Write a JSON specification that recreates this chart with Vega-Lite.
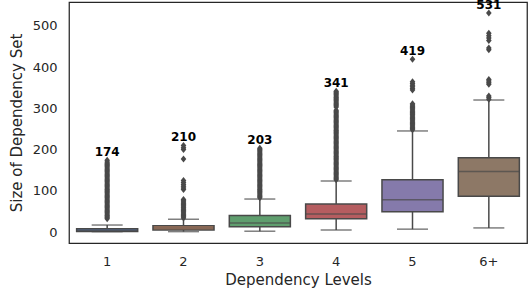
{
  "$schema": "https://vega.github.io/schema/vega-lite/v6.json",
  "width": 458,
  "height": 241,
  "autosize": {"type": "none"},
  "padding": {"left": 69, "top": 2, "right": 1, "bottom": 46},
  "config": {
    "view": {"stroke": "#262626", "strokeWidth": 1.25},
    "font": "DejaVu Sans",
    "axis": {"domain": false, "ticks": false, "grid": false, "labelFont": "DejaVu Sans", "titleFont": "DejaVu Sans", "labelFontSize": 13, "titleFontSize": 15, "labelColor": "#262626", "titleColor": "#262626", "titleFontWeight": "normal"}
  },
  "datasets": {
    "stats": [
      {"level": "1", "lo": 1, "q1": 1.5, "med": 4, "q3": 8, "hi": 17, "max": 174},
      {"level": "2", "lo": 1, "q1": 5, "med": 10, "q3": 15, "hi": 31, "max": 210},
      {"level": "3", "lo": 2, "q1": 13, "med": 22, "q3": 40, "hi": 80, "max": 203},
      {"level": "4", "lo": 5, "q1": 32, "med": 44, "q3": 68, "hi": 124, "max": 341},
      {"level": "5", "lo": 7, "q1": 49, "med": 78, "q3": 127, "hi": 245, "max": 419},
      {"level": "6+", "lo": 10, "q1": 87, "med": 147, "q3": 180, "hi": 320, "max": 531}
    ],
    "outliers": [
      {"level": "1", "v": 32}, {"level": "1", "v": 35}, {"level": "1", "v": 38}, {"level": "1", "v": 41}, {"level": "1", "v": 44}, {"level": "1", "v": 47}, {"level": "1", "v": 50}, {"level": "1", "v": 53}, {"level": "1", "v": 56}, {"level": "1", "v": 59}, {"level": "1", "v": 62}, {"level": "1", "v": 65}, {"level": "1", "v": 68}, {"level": "1", "v": 71}, {"level": "1", "v": 74}, {"level": "1", "v": 77}, {"level": "1", "v": 80}, {"level": "1", "v": 83}, {"level": "1", "v": 86}, {"level": "1", "v": 89}, {"level": "1", "v": 92}, {"level": "1", "v": 95}, {"level": "1", "v": 98}, {"level": "1", "v": 101}, {"level": "1", "v": 104}, {"level": "1", "v": 107}, {"level": "1", "v": 110}, {"level": "1", "v": 113}, {"level": "1", "v": 116}, {"level": "1", "v": 119}, {"level": "1", "v": 122}, {"level": "1", "v": 125}, {"level": "1", "v": 128}, {"level": "1", "v": 131}, {"level": "1", "v": 134}, {"level": "1", "v": 137}, {"level": "1", "v": 140}, {"level": "1", "v": 143}, {"level": "1", "v": 146}, {"level": "1", "v": 149}, {"level": "1", "v": 152}, {"level": "1", "v": 155}, {"level": "1", "v": 158}, {"level": "1", "v": 161}, {"level": "1", "v": 164}, {"level": "1", "v": 167}, {"level": "1", "v": 170}, {"level": "1", "v": 174},
      {"level": "2", "v": 34}, {"level": "2", "v": 37}, {"level": "2", "v": 40}, {"level": "2", "v": 43}, {"level": "2", "v": 46}, {"level": "2", "v": 49}, {"level": "2", "v": 52}, {"level": "2", "v": 55}, {"level": "2", "v": 58}, {"level": "2", "v": 61}, {"level": "2", "v": 64}, {"level": "2", "v": 67}, {"level": "2", "v": 70}, {"level": "2", "v": 73}, {"level": "2", "v": 76}, {"level": "2", "v": 79}, {"level": "2", "v": 103}, {"level": "2", "v": 107}, {"level": "2", "v": 111}, {"level": "2", "v": 115}, {"level": "2", "v": 120}, {"level": "2", "v": 125}, {"level": "2", "v": 177}, {"level": "2", "v": 200}, {"level": "2", "v": 204}, {"level": "2", "v": 210},
      {"level": "3", "v": 83}, {"level": "3", "v": 86}, {"level": "3", "v": 89}, {"level": "3", "v": 92}, {"level": "3", "v": 95}, {"level": "3", "v": 98}, {"level": "3", "v": 101}, {"level": "3", "v": 104}, {"level": "3", "v": 107}, {"level": "3", "v": 110}, {"level": "3", "v": 113}, {"level": "3", "v": 116}, {"level": "3", "v": 119}, {"level": "3", "v": 122}, {"level": "3", "v": 125}, {"level": "3", "v": 128}, {"level": "3", "v": 131}, {"level": "3", "v": 134}, {"level": "3", "v": 137}, {"level": "3", "v": 140}, {"level": "3", "v": 143}, {"level": "3", "v": 146}, {"level": "3", "v": 149}, {"level": "3", "v": 152}, {"level": "3", "v": 155}, {"level": "3", "v": 158}, {"level": "3", "v": 161}, {"level": "3", "v": 164}, {"level": "3", "v": 167}, {"level": "3", "v": 170}, {"level": "3", "v": 173}, {"level": "3", "v": 176}, {"level": "3", "v": 179}, {"level": "3", "v": 182}, {"level": "3", "v": 185}, {"level": "3", "v": 188}, {"level": "3", "v": 191}, {"level": "3", "v": 194}, {"level": "3", "v": 197}, {"level": "3", "v": 200}, {"level": "3", "v": 203},
      {"level": "4", "v": 127}, {"level": "4", "v": 130}, {"level": "4", "v": 133}, {"level": "4", "v": 136}, {"level": "4", "v": 139}, {"level": "4", "v": 142}, {"level": "4", "v": 145}, {"level": "4", "v": 148}, {"level": "4", "v": 151}, {"level": "4", "v": 154}, {"level": "4", "v": 157}, {"level": "4", "v": 160}, {"level": "4", "v": 163}, {"level": "4", "v": 166}, {"level": "4", "v": 169}, {"level": "4", "v": 172}, {"level": "4", "v": 175}, {"level": "4", "v": 178}, {"level": "4", "v": 181}, {"level": "4", "v": 184}, {"level": "4", "v": 187}, {"level": "4", "v": 190}, {"level": "4", "v": 193}, {"level": "4", "v": 196}, {"level": "4", "v": 199}, {"level": "4", "v": 202}, {"level": "4", "v": 205}, {"level": "4", "v": 208}, {"level": "4", "v": 211}, {"level": "4", "v": 214}, {"level": "4", "v": 217}, {"level": "4", "v": 220}, {"level": "4", "v": 223}, {"level": "4", "v": 226}, {"level": "4", "v": 229}, {"level": "4", "v": 232}, {"level": "4", "v": 235}, {"level": "4", "v": 238}, {"level": "4", "v": 241}, {"level": "4", "v": 244}, {"level": "4", "v": 247}, {"level": "4", "v": 250}, {"level": "4", "v": 253}, {"level": "4", "v": 256}, {"level": "4", "v": 259}, {"level": "4", "v": 262}, {"level": "4", "v": 265}, {"level": "4", "v": 268}, {"level": "4", "v": 271}, {"level": "4", "v": 274}, {"level": "4", "v": 277}, {"level": "4", "v": 280}, {"level": "4", "v": 283}, {"level": "4", "v": 286}, {"level": "4", "v": 289}, {"level": "4", "v": 292}, {"level": "4", "v": 295}, {"level": "4", "v": 303}, {"level": "4", "v": 306}, {"level": "4", "v": 309}, {"level": "4", "v": 312}, {"level": "4", "v": 315}, {"level": "4", "v": 318}, {"level": "4", "v": 321}, {"level": "4", "v": 324}, {"level": "4", "v": 327}, {"level": "4", "v": 330}, {"level": "4", "v": 333}, {"level": "4", "v": 336}, {"level": "4", "v": 339}, {"level": "4", "v": 341},
      {"level": "5", "v": 248}, {"level": "5", "v": 251}, {"level": "5", "v": 254}, {"level": "5", "v": 257}, {"level": "5", "v": 260}, {"level": "5", "v": 263}, {"level": "5", "v": 266}, {"level": "5", "v": 269}, {"level": "5", "v": 272}, {"level": "5", "v": 275}, {"level": "5", "v": 278}, {"level": "5", "v": 281}, {"level": "5", "v": 284}, {"level": "5", "v": 287}, {"level": "5", "v": 290}, {"level": "5", "v": 293}, {"level": "5", "v": 296}, {"level": "5", "v": 299}, {"level": "5", "v": 302}, {"level": "5", "v": 305}, {"level": "5", "v": 308}, {"level": "5", "v": 311}, {"level": "5", "v": 344}, {"level": "5", "v": 348}, {"level": "5", "v": 352}, {"level": "5", "v": 356}, {"level": "5", "v": 360}, {"level": "5", "v": 364}, {"level": "5", "v": 419},
      {"level": "6+", "v": 322}, {"level": "6+", "v": 326}, {"level": "6+", "v": 330}, {"level": "6+", "v": 358}, {"level": "6+", "v": 362}, {"level": "6+", "v": 366}, {"level": "6+", "v": 370}, {"level": "6+", "v": 442}, {"level": "6+", "v": 446}, {"level": "6+", "v": 464}, {"level": "6+", "v": 470}, {"level": "6+", "v": 476}, {"level": "6+", "v": 482}, {"level": "6+", "v": 531}
    ]
  },
  "data": {"name": "stats"},
  "encoding": {
    "x": {"field": "level", "type": "nominal", "sort": ["1", "2", "3", "4", "5", "6+"], "scale": {"paddingInner": 0, "paddingOuter": 0}, "axis": {"title": "Dependency Levels", "labelAngle": 0, "labelPadding": 12, "titlePadding": 4}}
  },
  "layer": [
    {
      "mark": {"type": "rule", "color": "#494949", "strokeWidth": 1.5},
      "encoding": {
        "y": {"field": "lo", "type": "quantitative", "scale": {"domain": [-26.55, 557.55], "nice": false, "zero": false}, "axis": {"title": "Size of Dependency Set", "values": [0, 100, 200, 300, 400, 500], "labelPadding": 12, "titlePadding": 8}},
        "y2": {"field": "hi"}
      }
    },
    {
      "mark": {"type": "tick", "color": "#494949", "thickness": 1.5, "size": 31},
      "encoding": {"y": {"field": "lo", "type": "quantitative"}}
    },
    {
      "mark": {"type": "tick", "color": "#494949", "thickness": 1.5, "size": 31},
      "encoding": {"y": {"field": "hi", "type": "quantitative"}}
    },
    {
      "mark": {"type": "bar", "width": {"band": 0.8}, "stroke": "#494949", "strokeWidth": 1.5},
      "encoding": {
        "y": {"field": "q1", "type": "quantitative"},
        "y2": {"field": "q3"},
        "color": {"field": "level", "type": "nominal", "scale": {"domain": ["1", "2", "3", "4", "5", "6+"], "range": ["#5975a4", "#cc8963", "#5f9e6e", "#b55d60", "#857aab", "#8d7866"]}, "legend": null}
      }
    },
    {
      "mark": {"type": "tick", "color": "#494949", "thickness": 1.5, "size": 61},
      "encoding": {"y": {"field": "med", "type": "quantitative"}}
    },
    {
      "data": {"name": "outliers"},
      "mark": {"type": "point", "shape": "M0,-1L0.8,0L0,1L-0.8,0Z", "filled": true, "color": "#494949", "opacity": 1, "size": 49},
      "encoding": {"y": {"field": "v", "type": "quantitative"}}
    },
    {
      "mark": {"type": "text", "fontWeight": "bold", "fontSize": 12, "color": "#000000", "baseline": "middle", "dy": -8},
      "encoding": {"y": {"field": "max", "type": "quantitative"}, "text": {"field": "max", "type": "quantitative"}}
    }
  ]
}
